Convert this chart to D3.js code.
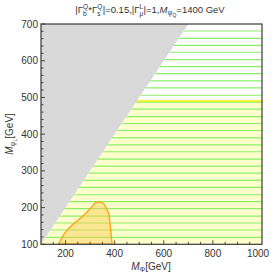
<!DOCTYPE html>
<html><head><meta charset="utf-8">
<script src="https://cdn.jsdelivr.net/npm/d3@7"></script>
<style>html,body{margin:0;padding:0;background:#fff;}svg{display:block;}</style>
</head><body>
<script>
// ---- data ----
const xDomain = [100, 1000];
const yDomain = [100, 700];
const xTickLabels = [200, 400, 600, 800, 1000];
const xMinorTicks = [150, 200, 250, 300, 350, 400, 450, 500, 550, 600, 650, 700, 750, 800, 850, 900, 950];
const yTickLabels = [100, 200, 300, 400, 500, 600, 700];
const yMinorTicks = [120,140,160,180,220,240,260,280,320,340,360,380,420,440,460,480,520,540,560,580,620,640,660,680];
const meshLevels = [119,139,158,177,197,216,235,255,274,294,313,332,352,371,390,410,429,448,468,487,506,526,545,565,584,603,623,642,661,681];
const yellowLimit = 490;
const orangeRegion = [[170,100],[184,116],[198,132],[215,145],[238,159],[266,174],[293,192],[313,207],[324,214],[337,215],[354,212],[368,195],[376,184],[381,157],[385,130],[390,100]];

const W = 274, H = 278;
const L = 41, R = 262, T = 24, B = 244.3;
const FONT = "'Liberation Sans', Arial, sans-serif";
const svg = d3.select("body").append("svg").attr("width", W).attr("height", H)
  .style("font-family", FONT);
const x = d3.scaleLinear().domain(xDomain).range([L, R]);
const y = d3.scaleLinear().domain(yDomain).range([B, T]);

svg.append("defs").append("clipPath").attr("id", "clip")
  .append("rect").attr("x", L).attr("y", T).attr("width", R - L).attr("height", B - T);
const g = svg.append("g").attr("clip-path", "url(#clip)");
const line = d3.line().x(d => x(d[0])).y(d => y(d[1]));

g.append("path").attr("d", line([[xDomain[0], yDomain[0]], [yellowLimit, yellowLimit], [xDomain[1], yellowLimit], [xDomain[1], yDomain[0]]]) + "Z")
  .attr("fill", "#ffffcc");
g.append("path").attr("d", line([[xDomain[0], yDomain[0]], [yDomain[1], yDomain[1]], [xDomain[0], yDomain[1]]]) + "Z")
  .attr("fill", "#d9d9d9");
g.selectAll("line.mesh").data(meshLevels).enter().append("line")
  .attr("x1", d => x(Math.max(d, xDomain[0]))).attr("x2", x(xDomain[1]))
  .attr("y1", d => y(d)).attr("y2", d => y(d))
  .attr("stroke", "#8aee6a").attr("stroke-width", 1.2);
g.append("line").attr("x1", x(yellowLimit)).attr("x2", x(xDomain[1]))
  .attr("y1", y(yellowLimit)).attr("y2", y(yellowLimit))
  .attr("stroke", "#f2f200").attr("stroke-width", 1.5);
g.append("path").attr("d", d3.line().x(d => x(d[0])).y(d => y(d[1])).curve(d3.curveCatmullRom)(orangeRegion) + "Z")
  .attr("fill", "#ffc84d").attr("fill-opacity", 0.45)
  .attr("stroke", "#ffa41c").attr("stroke-width", 1.4);

svg.append("rect").attr("x", L).attr("y", T).attr("width", R - L).attr("height", B - T)
  .attr("fill", "none").attr("stroke", "#3a3a3a").attr("stroke-width", 1.2);
const tk = svg.append("g").attr("stroke", "#3a3a3a").attr("stroke-width", 0.9);
xMinorTicks.forEach(v => {
  const major = xTickLabels.includes(v);
  tk.append("line").attr("x1", x(v)).attr("x2", x(v)).attr("y1", B).attr("y2", B - (major ? 4 : 2.5));
});
yMinorTicks.concat(yTickLabels).forEach(v => {
  const major = yTickLabels.includes(v);
  tk.append("line").attr("x1", L).attr("x2", L + (major ? 4 : 2.5)).attr("y1", y(v)).attr("y2", y(v));
});
svg.selectAll("text.xl").data(xTickLabels).enter().append("text")
  .attr("x", d => d === 1000 ? x(d) - 4 : x(d)).attr("y", B + 13).attr("text-anchor", "middle")
  .attr("font-size", 10).attr("fill", "#333").text(d => d);
svg.selectAll("text.yl").data(yTickLabels).enter().append("text")
  .attr("x", L - 3).attr("y", d => y(d) + 3.5).attr("text-anchor", "end")
  .attr("font-size", 10).attr("fill", "#333").text(d => d);

// manual rich-text layout: items are {t, fs, off, i} or {stack:[sup, sub]}
function layout(parent, items, base) {
  const grp = parent.append("g");
  let cx = 0;
  const put = (it) => {
    const el = grp.append("text").attr("x", cx).attr("y", it.off || 0)
      .attr("font-size", it.fs || base).attr("fill", "#333").text(it.t);
    if (it.i) el.attr("font-style", "italic");
    return el.node().getComputedTextLength();
  };
  items.forEach(it => {
    if (it.stack) {
      const w1 = put(it.stack[0]);
      const w2 = put(it.stack[1]);
      cx += Math.max(w1, w2) + 0.3;
    } else {
      cx += put(it);
    }
  });
  return {grp, width: cx};
}
const SS = 6.5;
const ss = (sub, sup) => ({stack: [{t: sup, fs: SS, off: -3.8}, {t: sub, fs: SS, off: 2.6}]});
const titleItems = [
  {t: "|Γ"}, ss("b", "Q"), {t: "*Γ"}, ss("s", "Q"),
  {t: "|=0.15,|Γ"}, ss("μ", "L"), {t: "|=1,"},
  {t: "M", i: true}, {t: "ψ", fs: 7, off: 2.2}, {t: "Q", fs: 5, off: 3.8}, {t: "=1400 GeV"}
];
const tl = layout(svg, titleItems, 9.5);
tl.grp.attr("transform", `translate(${150 - tl.width / 2},13)`);

const xlab = layout(svg, [{t: "M", i: true}, {t: "Φ", fs: 7, off: 2.2}, {t: "[GeV]"}], 10);
xlab.grp.attr("transform", `translate(${151 - xlab.width / 2},270)`);

const ylab = layout(svg, [{t: "M", i: true}, {t: "ψ", fs: 7, off: 2.2}, {t: "L", fs: 5, off: 3.8}, {t: " [GeV]"}], 10);
ylab.grp.attr("transform", `translate(13,${134 + ylab.width / 2}) rotate(-90)`);
</script>
</body></html>
